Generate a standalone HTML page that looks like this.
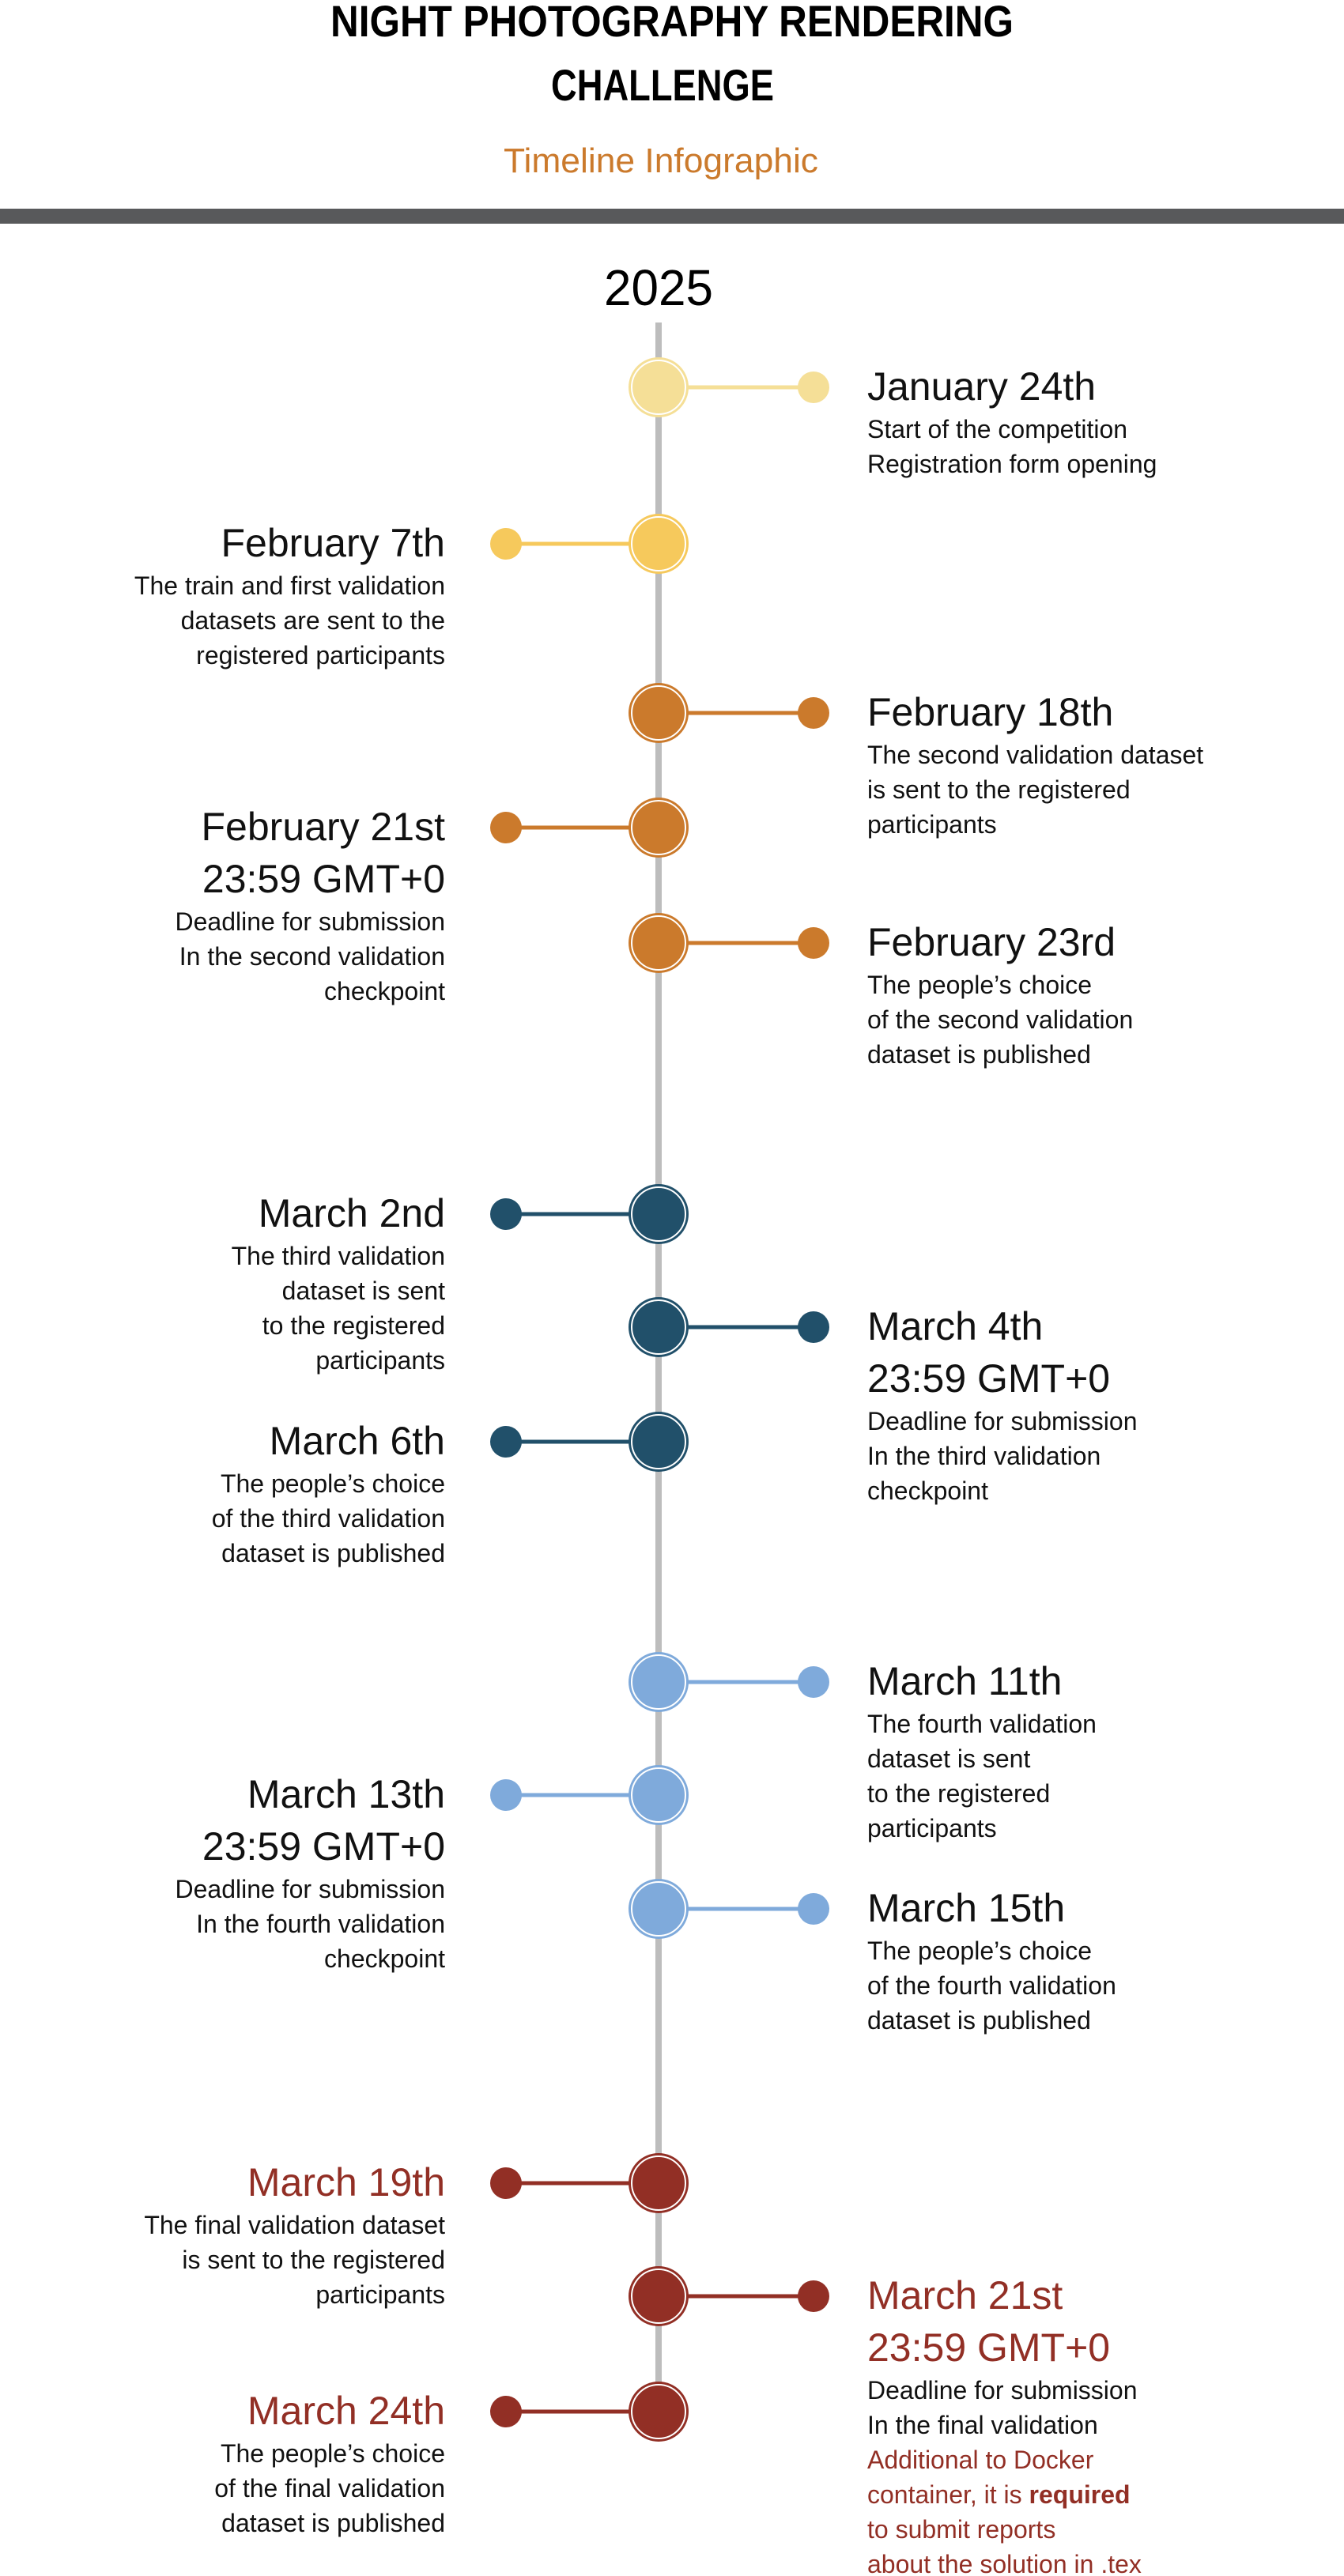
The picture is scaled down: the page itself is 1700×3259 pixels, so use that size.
<!DOCTYPE html>
<html><head><meta charset="utf-8"><style>
html,body{margin:0;padding:0;background:#fff;}
svg{display:block;font-family:"Liberation Sans",sans-serif;}
</style></head><body>
<svg id="tl" width="1700" height="3259" viewBox="0 0 1700 3259" xmlns="http://www.w3.org/2000/svg">
<text x="850" y="46" text-anchor="middle" font-size="56" font-weight="bold" textLength="864" lengthAdjust="spacingAndGlyphs">NIGHT PHOTOGRAPHY RENDERING</text>
<text x="838" y="127" text-anchor="middle" font-size="56" font-weight="bold" textLength="282" lengthAdjust="spacingAndGlyphs">CHALLENGE</text>
<text x="836" y="218" text-anchor="middle" font-size="44" fill="#CB7A2C" textLength="398" lengthAdjust="spacingAndGlyphs">Timeline Infographic</text>
<rect x="0" y="264" width="1700" height="19" fill="#58595B"/>
<text x="833" y="386" text-anchor="middle" font-size="64" textLength="138" lengthAdjust="spacingAndGlyphs">2025</text>
<line x1="833" y1="408" x2="833" y2="3051" stroke="#BDBDBD" stroke-width="8"/>
<g id="events"></g>
</svg>
<script>
const dates = ["January 24th","February 7th","February 18th","February 21st","February 23rd","March 2nd","March 4th","March 6th","March 11th","March 13th","March 15th","March 19th","March 21st","March 24th"];
const deadline = [0,0,0,1,0,0,1,0,0,1,0,0,1,0];
const sides = ["R","L","R","L","R","L","R","L","R","L","R","L","R","L"];
const ys = [490,688,902,1047,1193,1536,1679,1824,2128,2271,2415,2762,2905,3051];
const colors = ["#F5DF97","#F6C95C","#CB7A2C","#CB7A2C","#CB7A2C","#21506A","#21506A","#21506A","#7FAADB","#7FAADB","#7FAADB","#922F25","#922F25","#922F25"];
const bodies = [
 ["Start of the competition","Registration form opening"],
 ["The train and first validation","datasets are sent to the","registered participants"],
 ["The second validation dataset","is sent to the registered","participants"],
 ["Deadline for submission","In the second validation","checkpoint"],
 ["The people’s choice","of the second validation","dataset is published"],
 ["The third validation","dataset is sent","to the registered","participants"],
 ["Deadline for submission","In the third validation","checkpoint"],
 ["The people’s choice","of the third validation","dataset is published"],
 ["The fourth validation","dataset is sent","to the registered","participants"],
 ["Deadline for submission","In the fourth validation","checkpoint"],
 ["The people’s choice","of the fourth validation","dataset is published"],
 ["The final validation dataset","is sent to the registered","participants"],
 ["Deadline for submission","In the final validation","Additional to Docker","container, it is |required","to submit reports","about the solution in .tex"],
 ["The people’s choice","of the final validation","dataset is published"]
];
const NS="http://www.w3.org/2000/svg";
const g=document.getElementById('events');
function mk(tag,attrs){const e=document.createElementNS(NS,tag);for(const k in attrs)e.setAttribute(k,attrs[k]);return e;}
const CX=833, RX=1029, LX=640, TR=1097, TL=563;
dates.forEach((d,i)=>{
  const y=ys[i], c=colors[i], right=sides[i]==="R";
  const red = i>=11;
  const grp=mk('g',{});
  
  
  const sx=right?RX:LX;
  const ln=mk('line',{x1:CX,y1:y,x2:sx,y2:y,stroke:c,'stroke-width':5});
  
  
  grp.appendChild(ln);
  const big=mk('circle',{cx:CX,cy:y,r:38,fill:c});
  
  
  grp.appendChild(big);
  const ring=mk('circle',{cx:CX,cy:y,r:34,fill:'none',stroke:'#fff','stroke-width':2});
  
  
  grp.appendChild(ring);
  const sm=mk('circle',{cx:sx,cy:y,r:20,fill:c});
  
  
  grp.appendChild(sm);
  const tx=right?TR:TL, anc=right?'start':'end';
  let by=y+16;
  const dt=mk('text',{x:tx,y:by,'font-size':50,'text-anchor':anc,fill:red?'#922F25':'#111'});
  dt.textContent=d;
  
  
  grp.appendChild(dt);
  if(deadline[i]){
    by+=66;
    const t2=mk('text',{x:tx,y:by,'font-size':50,'text-anchor':anc,fill:red?'#922F25':'#111'});
    t2.textContent="23:59 GMT+0";
    
    
    grp.appendChild(t2);
  }
  by+=48;
  bodies[i].forEach((line,j)=>{
    const redLine = (i===12 && j>=2);
    const t=mk('text',{x:tx,y:by+j*44,'font-size':32,'text-anchor':anc,fill:redLine?'#922F25':'#111'});
    const parts=line.split('|');
    const s1=mk('tspan',{});
    s1.textContent=parts[0];
    t.appendChild(s1);
    if(parts.length>1){
      const s2=mk('tspan',{'font-weight':'bold'});
      s2.textContent=parts[1];
      t.appendChild(s2);
    }
    
    
    grp.appendChild(t);
  });
  g.appendChild(grp);
});
</script>
</body></html>
